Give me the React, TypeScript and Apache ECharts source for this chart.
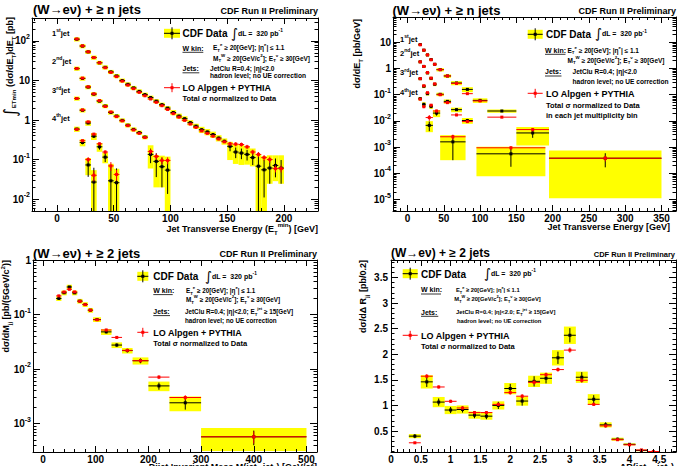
import React, { useEffect, useRef } from "react";
import * as echarts from "echarts";

const FONT = '"Liberation Sans", Arial, Helvetica, sans-serif';
const INT_FONT = '"DejaVu Sans", "Liberation Sans", sans-serif';
const YELLOW = "#ffff00";
const RED = "#ff0000";
const BLACK = "#000000";
const TINY = 1e-30;

/* ================= Panel A : integrated cross section vs E_T^min ================= */
const aHalfBin = 2.5;
const aX1 = [17.5, 22.5, 27.5, 32.5, 37.5, 42.5, 47.5, 52.5, 57.5, 62.5, 67.5, 72.5, 77.5, 82.5, 87.5, 92.5, 97.5, 102.5, 107.5, 112.5, 117.5, 122.5, 127.5, 132.5, 137.5, 142.5, 147.5, 152.5, 157.5, 162.5, 167.5, 172.5, 177.5, 182.5, 187.5, 192.5, 197.5];
const aData1 = [110, 74, 53, 38, 28, 21.5, 16.5, 13, 10, 8.0, 6.5, 5.3, 4.4, 3.7, 3.0, 2.45, 2.0, 1.55, 1.26, 1.08, 0.86, 0.7, 0.57, 0.5, 0.43, 0.35, 0.29, 0.216, 0.155, 0.146, 0.135, 0.112, 0.068, 0.055, 0.061, 0.071, 0.061];
const aTheo1 = [112, 75, 53, 38, 28, 21, 16, 12.5, 9.6, 7.6, 6.2, 5.0, 4.1, 3.4, 2.8, 2.3, 1.85, 1.45, 1.18, 0.98, 0.79, 0.65, 0.53, 0.46, 0.39, 0.33, 0.28, 0.25, 0.246, 0.24, 0.21, 0.155, 0.135, 0.112, 0.1, 0.059, 0.059];
const aStat1 = [0.01, 0.01, 0.01, 0.01, 0.01, 0.015, 0.015, 0.02, 0.02, 0.02, 0.025, 0.025, 0.03, 0.03, 0.035, 0.035, 0.04, 0.045, 0.05, 0.05, 0.055, 0.06, 0.065, 0.07, 0.075, 0.08, 0.09, 0.25, 0.3, 0.3, 0.3, 0.35, 1.2, 0.8, 0.6, 0.5, 0.6];
const aSysUp1 = [0.12, 0.12, 0.12, 0.12, 0.12, 0.12, 0.12, 0.12, 0.12, 0.12, 0.12, 0.12, 0.12, 0.12, 0.12, 0.12, 0.12, 0.15, 0.15, 0.15, 0.15, 0.15, 0.18, 0.18, 0.18, 0.18, 0.18, 0.3, 0.6, 0.6, 0.6, 0.7, 1.0, 1.2, 1.1, 0.8, 1.1];
const aSysDn1 = [0.12, 0.12, 0.12, 0.12, 0.12, 0.12, 0.12, 0.12, 0.12, 0.12, 0.12, 0.12, 0.12, 0.12, 0.12, 0.12, 0.12, 0.15, 0.15, 0.15, 0.15, 0.15, 0.18, 0.18, 0.18, 0.18, 0.18, 0.55, 0.5, 0.5, 0.45, 0.4, 1, 1, 0.6, 0.6, 0.6];
const aTheoErr1 = [0.02, 0.02, 0.02, 0.02, 0.02, 0.02, 0.02, 0.02, 0.02, 0.02, 0.02, 0.02, 0.03, 0.03, 0.03, 0.03, 0.03, 0.04, 0.04, 0.04, 0.04, 0.05, 0.05, 0.05, 0.06, 0.06, 0.06, 0.12, 0.12, 0.12, 0.12, 0.14, 0.15, 0.16, 0.18, 0.2, 0.2];

const aX2 = [17.5, 22.5, 27.5, 32.5, 37.5, 42.5, 47.5, 52.5, 57.5, 62.5, 67.5, 72.5, 77.5, 82.5, 87.5, 92.5, 97.5];
const aData2 = [20, 11.2, 6.8, 4.5, 3.0, 2.26, 1.55, 1.26, 0.98, 0.74, 0.58, 0.48, 0.37, 0.135, 0.09, 0.066, 0.054];
const aTheo2 = [20, 11.5, 6.9, 4.6, 3.1, 2.2, 1.6, 1.22, 0.95, 0.72, 0.56, 0.46, 0.36, 0.16, 0.12, 0.095, 0.095];
const aStat2 = [0.01, 0.015, 0.02, 0.02, 0.025, 0.03, 0.035, 0.04, 0.045, 0.05, 0.06, 0.07, 0.08, 0.4, 0.6, 0.7, 0.75];
const aSysUp2 = [0.12, 0.12, 0.12, 0.12, 0.12, 0.12, 0.12, 0.12, 0.12, 0.12, 0.12, 0.12, 0.12, 0.7, 0.45, 0.9, 1.2];
const aSysDn2 = [0.12, 0.12, 0.12, 0.12, 0.12, 0.12, 0.12, 0.12, 0.12, 0.12, 0.12, 0.12, 0.12, 0.56, 0.78, 0.7, 1];
const aTheoErr2 = [0.02, 0.02, 0.02, 0.03, 0.03, 0.03, 0.04, 0.04, 0.05, 0.05, 0.06, 0.06, 0.07, 0.15, 0.18, 0.2, 0.2];

const aX3 = [17.5, 22.5, 27.5, 32.5, 37.5, 42.5, 47.5, 52.5];
const aData3 = [3.5, 1.76, 0.84, 0.39, 0.21, 0.115, 0.029, 0.026];
const aTheo3 = [3.5, 1.8, 0.9, 0.44, 0.25, 0.155, 0.069, 0.042];
const aStat3 = [0.02, 0.03, 0.05, 0.1, 0.15, 0.25, 1.4, 1.3];
const aSysUp3 = [0.12, 0.12, 0.15, 0.2, 0.25, 0.3, 1.7, 1.25];
const aSysDn3 = [0.12, 0.12, 0.15, 0.2, 0.25, 0.3, 1, 1];
const aTheoErr3 = [0.02, 0.03, 0.04, 0.06, 0.08, 0.1, 0.25, 0.3];

const aX4 = [17.5, 22.5, 27.5, 32.5];
const aData4 = [0.59, 0.27, 0.073, 0.027];
const aTheo4 = [0.58, 0.3, 0.1, 0.04];
const aStat4 = [0.05, 0.1, 0.5, 1.3];
const aSysUp4 = [0.15, 0.2, 0.5, 1.0];
const aSysDn4 = [0.15, 0.2, 0.45, 1];
const aTheoErr4 = [0.04, 0.06, 0.15, 0.3];

/* ================= Panel B : dσ/dE_T per jet ================= */
const bLo1 = [15, 20, 25, 30, 35, 40, 50, 60, 75, 90, 110, 150, 195];
const bHi1 = [20, 25, 30, 35, 40, 50, 60, 75, 90, 110, 150, 195, 350];
const bData1 = [8.2, 5.0, 3.3, 2.2, 1.45, 0.91, 0.52, 0.28, 0.16, 0.061, 0.024, 0.0035, 0.00038];
const bTheo1 = [8.0, 5.0, 3.3, 2.15, 1.45, 0.9, 0.52, 0.27, 0.11, 0.058, 0.014, 0.0047, 0.00038];
const bStat1 = [0.01, 0.01, 0.015, 0.02, 0.02, 0.02, 0.03, 0.04, 0.05, 0.06, 0.08, 0.35, 0.55];
const bSys1 = [0.12, 0.12, 0.12, 0.12, 0.12, 0.15, 0.15, 0.18, 0.22, 0.2, 0.15, 0.67, 0.97];
const bTheoErr1 = [0.02, 0.02, 0.02, 0.02, 0.03, 0.03, 0.03, 0.04, 0.05, 0.06, 0.08, 0.15, 0.25];

const bLo2 = [15, 20, 25, 30, 35, 40, 50, 60, 75, 95];
const bHi2 = [20, 25, 30, 35, 40, 50, 60, 75, 90, 190];
const bData2 = [1.8, 1.2, 0.68, 0.42, 0.25, 0.104, 0.056, 0.027, 0.0104, 0.00056];
const bTheo2 = [1.8, 1.2, 0.7, 0.43, 0.26, 0.1, 0.05, 0.017, 0.0095, 0.00095];
const bStat2 = [0.01, 0.015, 0.02, 0.03, 0.04, 0.05, 0.07, 0.1, 0.15, 0.68];
const bSys2 = [0.12, 0.12, 0.12, 0.15, 0.15, 0.15, 0.18, 0.2, 0.25, 0.86];
const bTheoErr2 = [0.02, 0.03, 0.03, 0.04, 0.05, 0.05, 0.07, 0.1, 0.12, 0.15];

const bLo3 = [15, 20, 25, 30, 35, 45];
const bHi3 = [20, 25, 30, 35, 45, 80];
const bData3 = [0.41, 0.21, 0.11, 0.036, 0.02, 0.0016];
const bTheo3 = [0.41, 0.22, 0.12, 0.04, 0.024, 0.0025];
const bStat3 = [0.03, 0.05, 0.08, 0.15, 0.2, 0.8];
const bSys3 = [0.12, 0.15, 0.15, 0.2, 0.3, 0.8];
const bTheoErr3 = [0.04, 0.05, 0.07, 0.1, 0.12, 0.2];

const bLo4 = [15, 20, 25];
const bHi4 = [20, 25, 35];
const bData4 = [0.071, 0.043, 0.0068];
const bTheo4 = [0.068, 0.035, 0.0135];
const bStat4 = [0.1, 0.15, 0.4];
const bSys4 = [0.15, 0.2, 0.45];
const bTheoErr4 = [0.08, 0.12, 0.25];

/* ================= Panel C : dijet invariant mass ================= */
const cLo = [25, 35, 45, 55, 65, 75, 85, 95, 110, 130, 150, 170, 200, 240, 300];
const cHi = [35, 45, 55, 65, 75, 85, 95, 110, 130, 150, 170, 200, 240, 300, 500];
const cData = [0.197, 0.25, 0.32, 0.25, 0.176, 0.153, 0.12, 0.081, 0.048, 0.0275, 0.0218, 0.0142, 0.0049, 0.0024, 0.00057];
const cTheo = [0.22, 0.26, 0.29, 0.26, 0.175, 0.152, 0.12, 0.08, 0.052, 0.038, 0.022, 0.0142, 0.0071, 0.003, 0.00057];
const cStat = [0.04, 0.035, 0.03, 0.03, 0.03, 0.035, 0.04, 0.045, 0.06, 0.07, 0.08, 0.1, 0.15, 0.25, 0.3];
const cSys = [0.1, 0.1, 0.1, 0.1, 0.1, 0.1, 0.1, 0.1, 0.12, 0.12, 0.12, 0.15, 0.2, 0.3, 0.45];
const cTheoErr = [0.03, 0.03, 0.03, 0.03, 0.03, 0.03, 0.03, 0.04, 0.05, 0.06, 0.06, 0.07, 0.08, 0.1, 0.25];

/* ================= Panel D : dijet ΔR ================= */
const dLo = [0.3, 0.5, 0.7, 0.9, 1.1, 1.3, 1.5, 1.7, 1.9, 2.1, 2.3, 2.5, 2.7, 2.9, 3.1, 3.3, 3.5, 3.7, 3.9, 4.1, 4.3];
const dHi = [0.5, 0.7, 0.9, 1.1, 1.3, 1.5, 1.7, 1.9, 2.1, 2.3, 2.5, 2.7, 2.9, 3.1, 3.3, 3.5, 3.7, 3.9, 4.1, 4.3, 4.5];
const dData = [0.4, 1.46, 1.065, 0.91, 0.92, 0.81, 0.79, 1.0, 1.33, 1.085, 1.47, 1.53, 1.93, 2.37, 1.55, 1.12, 0.62, 0.34, 0.24, 0.12, 0.08];
const dTheo = [0.27, 1.57, 1.36, 1.08, 0.95, 0.86, 0.86, 1.02, 1.25, 1.18, 1.45, 1.6, 1.7, 2.08, 1.49, 1.02, 0.6, 0.33, 0.23, 0.13, 0.1];
const dStat = [0.04, 0.1, 0.07, 0.06, 0.06, 0.06, 0.06, 0.07, 0.09, 0.09, 0.1, 0.1, 0.12, 0.14, 0.1, 0.08, 0.05, 0.03, 0.02, 0.015, 0.01];
const dSys = [0.04, 0.13, 0.1, 0.08, 0.08, 0.07, 0.07, 0.08, 0.11, 0.09, 0.11, 0.11, 0.15, 0.17, 0.11, 0.1, 0.05, 0.03, 0.02, 0.015, 0.01];
const dTheoErr = [0.01, 0.04, 0.03, 0.03, 0.03, 0.03, 0.03, 0.03, 0.04, 0.04, 0.04, 0.04, 0.04, 0.05, 0.04, 0.03, 0.02, 0.02, 0.01, 0.01, 0.01];

/* ================= Axis ticks ================= */
const aXTicks = [0, 50, 100, 150, 200];
const aYTicks = [0.01, 0.1, 1, 10, 100];
const bXTicks = [0, 50, 100, 150, 200, 250, 300, 350];
const bYTicks = [1e-5, 1e-4, 1e-3, 0.01, 0.1, 1, 10];
const cXTicks = [0, 100, 200, 300, 400, 500];
const cYTicks = [0.001, 0.01, 0.1, 1];
const dXTicks = [0, 0.5, 1, 1.5, 2, 2.5, 3, 3.5, 4, 4.5];
const dYTicks = [0.5, 1, 1.5, 2, 2.5, 3, 3.5];

/* ================= helpers ================= */
function linMinor(min: number, max: number, step: number, majorStep: number) {
  const out: number[] = [];
  const k0 = Math.ceil(min / step - 1e-9);
  const k1 = Math.floor(max / step + 1e-9);
  for (let k = k0; k <= k1; k++) {
    const v = Math.round(k * step * 1e6) / 1e6;
    const r = v / majorStep;
    if (Math.abs(r - Math.round(r)) > 1e-6) out.push(v);
  }
  return out;
}
function logMinor(min: number, max: number) {
  const out: number[] = [];
  for (let e = Math.floor(Math.log10(min)); e <= Math.ceil(Math.log10(max)); e++) {
    for (let m = 2; m <= 9; m++) {
      const v = m * Math.pow(10, e);
      if (v >= min && v <= max) out.push(v);
    }
  }
  return out;
}
const logFmt = (v: number) => {
  const e = Math.round(Math.log10(v));
  if (e === 0) return "1";
  if (e === 1) return "10";
  return "10{sup|" + e + "}";
};

function axisGroup(dim: "x" | "y", grid: number, s: any) {
  const pos = dim === "x" ? ["bottom", "top"] : ["left", "right"];
  const base: any = {
    type: s.type, gridIndex: grid, min: s.min, max: s.max,
    splitLine: { show: false }, splitArea: { show: false }, silent: true, z: 10,
    axisPointer: { show: false },
  };
  const line = { show: true, onZero: false, lineStyle: { color: BLACK, width: 1 } };
  const noLine = { show: false, onZero: false };
  const tick = (vals: number[], len: number) => ({
    show: true, inside: true, length: len, customValues: vals,
    lineStyle: { color: BLACK, width: 1 },
  });
  const label: any = {
    show: true, customValues: s.major, color: BLACK, fontSize: s.fontSize,
    fontWeight: "bold", fontFamily: FONT, margin: s.margin,
  };
  if (s.fmt) {
    label.formatter = s.fmt;
    label.lineHeight = 16;
    label.rich = {
      sup: { color: BLACK, fontSize: 7, fontWeight: "bold", fontFamily: FONT, verticalAlign: "top", lineHeight: 7 },
    };
  }
  return [
    { ...base, position: pos[0], axisLine: line, axisTick: tick(s.major, s.majorLen), axisLabel: label },
    { ...base, position: pos[0], axisLine: noLine, axisTick: tick(s.minor, s.minorLen), axisLabel: { show: false } },
    { ...base, position: pos[1], axisLine: line, axisTick: tick(s.major, s.majorLen), axisLabel: { show: false } },
    { ...base, position: pos[1], axisLine: noLine, axisTick: tick(s.minor, s.minorLen), axisLabel: { show: false } },
  ];
}

function crossRel(lo: number[], hi: number[], y: number[], eu: number[], ed: number[]) {
  return y.map((v, i) => [(lo[i] + hi[i]) / 2, lo[i], hi[i], v, v * (1 - ed[i]), v * (1 + eu[i])]);
}
function boxRel(lo: number[], hi: number[], y: number[], up: number[], dn: number[]) {
  return y.map((v, i) => [lo[i], hi[i], v * (1 - dn[i]), v * (1 + up[i])]);
}
function crossAbs(lo: number[], hi: number[], y: number[], e: number[]) {
  return y.map((v, i) => [(lo[i] + hi[i]) / 2, lo[i], hi[i], v, v - e[i], v + e[i]]);
}
function boxAbs(lo: number[], hi: number[], y: number[], e: number[]) {
  return y.map((v, i) => [lo[i], hi[i], v - e[i], v + e[i]]);
}
const loOf = (xs: number[], h: number) => xs.map((x) => x - h);
const hiOf = (xs: number[], h: number) => xs.map((x) => x + h);

function renderBox(params: any, api: any) {
  const cs = params.coordSys;
  const X = (v: number) => Math.min(Math.max(v, cs.x), cs.x + cs.width);
  const Y = (v: number) => Math.min(Math.max(v, cs.y), cs.y + cs.height);
  const p1 = api.coord([api.value(0), Math.max(api.value(3), TINY)]);
  const p2 = api.coord([api.value(1), Math.max(api.value(2), TINY)]);
  const x0 = X(Math.min(p1[0], p2[0]));
  const x1 = X(Math.max(p1[0], p2[0]));
  const y0 = Y(Math.min(p1[1], p2[1]));
  const y1 = Y(Math.max(p1[1], p2[1]));
  if (x1 - x0 <= 0 || y1 - y0 <= 0) return null;
  return { type: "rect", shape: { x: x0, y: y0, width: x1 - x0, height: y1 - y0 }, style: { fill: YELLOW }, silent: true };
}

function makeCross(color: string, size: number) {
  return (params: any, api: any) => {
    const cs = params.coordSys;
    const X = (v: number) => Math.min(Math.max(v, cs.x), cs.x + cs.width);
    const Y = (v: number) => Math.min(Math.max(v, cs.y), cs.y + cs.height);
    const xc = api.value(0), lo = api.value(1), hi = api.value(2), y = api.value(3);
    const el = api.value(4), eh = api.value(5);
    const c = api.coord([xc, y]);
    if (c[1] > cs.y + cs.height + 0.5 || c[1] < cs.y - 0.5) return null;
    const l = api.coord([lo, y]);
    const h = api.coord([hi, y]);
    const a = api.coord([xc, Math.max(el, TINY)]);
    const b = api.coord([xc, Math.max(eh, TINY)]);
    const ls = { stroke: color, lineWidth: 1 };
    return {
      type: "group",
      children: [
        { type: "line", shape: { x1: X(l[0]), y1: c[1], x2: X(h[0]), y2: c[1] }, style: ls },
        { type: "line", shape: { x1: c[0], y1: Y(a[1]), x2: c[0], y2: Y(b[1]) }, style: ls },
        { type: "rect", shape: { x: c[0] - size / 2, y: c[1] - size / 2, width: size, height: size }, style: { fill: color } },
      ],
    };
  };
}

function panelSeries(xi: number, yi: number, boxes: any[], data: any[], theory: any[]) {
  const common = { type: "custom", xAxisIndex: xi, yAxisIndex: yi, silent: true, animation: false };
  return [
    { ...common, data: boxes, renderItem: renderBox, encode: { x: [0, 1], y: [3] }, z: 2 },
    { ...common, data, renderItem: makeCross(BLACK, 3), encode: { x: [0], y: [3] }, z: 3 },
    { ...common, data: theory, renderItem: makeCross(RED, 3), encode: { x: [0], y: [3] }, z: 4 },
  ];
}

function richStyles(size: number) {
  const s = Math.round(size * 0.68 * 10) / 10;
  const base = { fontWeight: "bold", fontFamily: FONT, fill: BLACK };
  return {
    sup: { ...base, fontSize: s, verticalAlign: "top", lineHeight: s },
    sub: { ...base, fontSize: s, verticalAlign: "bottom", lineHeight: s * 1.7 },
    lo: { ...base, fontSize: s, verticalAlign: "bottom", lineHeight: s },
    int: { fontFamily: INT_FONT, fontWeight: "normal", fill: BLACK, fontSize: size * 1.9, lineHeight: size * 1.5 },
  };
}
function T(x: number, y: number, text: string, size: number, align = "left", rotation = 0) {
  return {
    type: "text", x, y, rotation, silent: true, z: 100,
    style: {
      text, fontSize: size, fontWeight: "bold", fontFamily: FONT, fill: BLACK,
      align, textAlign: align, verticalAlign: "middle", textVerticalAlign: "middle",
      lineHeight: size * 1.5, rich: richStyles(size),
    },
  };
}
function UL(x0: number, x1: number, y: number) {
  return { type: "line", silent: true, z: 100, shape: { x1: x0, y1: y, x2: x1, y2: y }, style: { stroke: BLACK, lineWidth: 0.8 } };
}
function dataIcon(x0: number, x1: number, yc: number) {
  const xm = (x0 + x1) / 2;
  return [
    { type: "rect", silent: true, z: 100, shape: { x: x0, y: yc - 4.5, width: x1 - x0, height: 9 }, style: { fill: YELLOW } },
    { type: "line", silent: true, z: 101, shape: { x1: x0, y1: yc, x2: x1, y2: yc }, style: { stroke: BLACK, lineWidth: 1 } },
    { type: "line", silent: true, z: 101, shape: { x1: xm, y1: yc - 6, x2: xm, y2: yc + 6 }, style: { stroke: BLACK, lineWidth: 1 } },
    { type: "rect", silent: true, z: 102, shape: { x: xm - 1.5, y: yc - 1.5, width: 3, height: 3 }, style: { fill: BLACK } },
  ];
}
function theoIcon(x0: number, x1: number, yc: number) {
  const xm = (x0 + x1) / 2;
  return [
    { type: "line", silent: true, z: 101, shape: { x1: x0, y1: yc, x2: x1, y2: yc }, style: { stroke: RED, lineWidth: 1 } },
    { type: "line", silent: true, z: 101, shape: { x1: xm, y1: yc - 4.5, x2: xm, y2: yc + 4.5 }, style: { stroke: RED, lineWidth: 1 } },
    { type: "rect", silent: true, z: 102, shape: { x: xm - 1.5, y: yc - 1.5, width: 3, height: 3 }, style: { fill: RED } },
  ];
}

const EKIN = "E{sub|T}{sup|e} ≥ 20[GeV]; |η{sup|e}| ≤ 1.1";
const MKIN = "M{sub|T}{sup|W} ≥ 20[GeV/c{sup|2}]; E{sub|T}{sup|ν} ≥ 30[GeV]";
const LUMI = "{int|∫}dL =  320 pb{sup|-1}";

function buildGraphic() {
  const g: any[] = [];
  // ---- Panel A
  g.push(T(33, 9.5, "(W→eν) + ≥ n jets", 13));
  g.push(T(318, 10.5, "CDF Run II Preliminary", 9, "right"));
  g.push(T(52, 33, "1{sup|st}jet", 7.5));
  g.push(T(52, 61, "2{sup|nd}jet", 7.5));
  g.push(T(52, 90.7, "3{sup|rd}jet", 7.5));
  g.push(T(52, 118.3, "4{sup|th}jet", 7.5));
  g.push(...dataIcon(164, 180, 33.3));
  g.push(T(182.5, 33.5, "CDF Data", 10));
  g.push(T(231, 33.5, LUMI, 7));
  g.push(T(182.5, 48, "W kin:", 7), UL(182.5, 203.3, 52.3));
  g.push(T(213, 47.5, EKIN, 6.5));
  g.push(T(213, 58, MKIN, 6.5));
  g.push(T(182.5, 68.5, "Jets:", 7), UL(182.5, 199.3, 72.8));
  g.push(T(210, 68.5, "JetClu R=0.4; |η|<2.0", 6.6));
  g.push(T(210, 75.8, "hadron level; no UE correction", 6.6));
  g.push(...theoIcon(164, 180, 87.7));
  g.push(T(182.5, 88, "LO Alpgen + PYTHIA", 9));
  g.push(T(182.5, 98, "Total σ normalized to Data", 7.5));
  g.push(T(10, 17, "{int|∫}{lo|E}{lo|T}{lo|min} (dσ/dE{sub|T})dE{sub|T} [pb]", 9, "right", Math.PI / 2));
  g.push(T(318, 228.5, "Jet Transverse Energy (E{sub|T}{sup|min}) [GeV]", 9, "right"));

  // ---- Panel B
  g.push(T(392.5, 10, "(W→eν) + ≥ n jets", 13));
  g.push(T(676, 11, "CDF Run II Preliminary", 9, "right"));
  g.push(T(400, 39.3, "1{sup|st}jet", 7.5));
  g.push(T(400, 53.3, "2{sup|nd}jet", 7.5));
  g.push(T(400, 72.7, "3{sup|rd}jet", 7.5));
  g.push(T(400, 92.7, "4{sup|th}jet", 7.5));
  g.push(...dataIcon(527.7, 542.7, 34.3));
  g.push(T(546, 34.5, "CDF Data", 10));
  g.push(T(595, 33.8, LUMI, 7));
  g.push(T(545, 50, "W kin:", 7), UL(545, 565.5, 54.3));
  g.push(T(567.5, 50, EKIN, 6.5));
  g.push(T(567.5, 60, MKIN, 6.5));
  g.push(T(545, 71.7, "Jets:", 7), UL(545, 561.5, 76));
  g.push(T(572.5, 71.7, "JetClu R=0.4; |η|<2.0", 6.6));
  g.push(T(572.5, 81, "hadron level; no UE correction", 6.6));
  g.push(...theoIcon(527.7, 542.7, 93.3));
  g.push(T(546, 93.5, "LO Alpgen + PYTHIA", 9));
  g.push(T(546, 105, "Total σ normalized to Data", 7.5));
  g.push(T(546, 115, "in each jet multiplicity bin", 7.5));
  g.push(T(357, 19, "dσ/dE{sub|T} [pb/GeV]", 9, "right", Math.PI / 2));
  g.push(T(670, 226.7, "Jet Transverse Energy [GeV]", 9, "right"));

  // ---- Panel C
  g.push(T(33, 253, "(W→eν) + ≥ 2 jets", 13));
  g.push(T(317, 254, "CDF Run II Preliminary", 9, "right"));
  g.push(...dataIcon(137.3, 148.3, 276.3));
  g.push(T(153.3, 276.5, "CDF Data", 10));
  g.push(T(205, 276, LUMI, 7));
  g.push(T(153.3, 290.3, "W kin:", 7), UL(153.3, 172.7, 294.6));
  g.push(T(186, 290.3, EKIN, 6.3));
  g.push(T(186, 299.7, MKIN, 6.3));
  g.push(T(153.3, 311.3, "Jets:", 7), UL(153.3, 170, 315.6));
  g.push(T(185, 311.3, "JetClu R=0.4; |η|<2.0; E{sub|T}{sup|jet} ≥ 15[GeV]", 6.3));
  g.push(T(185, 320.3, "hadron level; no UE correction", 6.3));
  g.push(...theoIcon(137.3, 148.3, 332.3));
  g.push(T(153.3, 332.5, "LO Alpgen + PYTHIA", 9));
  g.push(T(153.3, 343, "Total σ normalized to Data", 7.5));
  g.push(T(6, 260, "dσ/dM{sub|jj} [pb/(5GeV/c{sup|2})]", 9, "right", Math.PI / 2));
  g.push(T(317, 467, "Dijet Invariant Mass M(jet{sub|1},jet{sub|2}) [GeV/c{sup|2}]", 9, "right"));

  // ---- Panel D
  g.push(T(391, 252.5, "(W→eν) + ≥ 2 jets", 12));
  g.push(T(675, 254, "CDF Run II Preliminary", 7.5, "right"));
  g.push(...dataIcon(402.7, 417.7, 273.7));
  g.push(T(421, 274, "CDF Data", 10));
  g.push(T(484, 273.5, LUMI, 7));
  g.push(T(421, 289.7, "W kin:", 7), UL(421, 441, 294));
  g.push(T(456, 289.7, EKIN, 5.8));
  g.push(T(454.3, 299, MKIN, 5.8));
  g.push(T(421, 312, "Jets:", 7), UL(421, 438.3, 316.3));
  g.push(T(456, 312, "JetClu R=0.4; |η|<2.0; E{sub|T}{sup|jet} ≥ 15[GeV]", 5.8));
  g.push(T(457, 321.3, "hadron level; no UE correction", 5.8));
  g.push(...theoIcon(402.7, 417.7, 335.3));
  g.push(T(421, 335.5, "LO Alpgen + PYTHIA", 9));
  g.push(T(421, 346.3, "Total σ normalized to Data", 7.5));
  g.push(T(363, 260, "dσ/dΔ R{sub|jj} [pb/0.2]", 9, "right", Math.PI / 2));
  g.push(T(674, 467, "ΔR(jet{sub|1} , jet{sub|2})", 9, "right"));
  return g;
}

function buildOption() {
  const grids = [
    { left: 32, top: 18, width: 286, height: 193 },
    { left: 393, top: 17, width: 283, height: 194 },
    { left: 33, top: 260, width: 284, height: 192 },
    { left: 391, top: 260, width: 285, height: 192 },
  ];
  const xAxis: any[] = [];
  const yAxis: any[] = [];
  const addX = (g: number, s: any) => { const i = xAxis.length; xAxis.push(...axisGroup("x", g, s)); return i; };
  const addY = (g: number, s: any) => { const i = yAxis.length; yAxis.push(...axisGroup("y", g, s)); return i; };

  const xa = addX(0, { type: "value", min: -22, max: 230, major: aXTicks, minor: linMinor(-22, 230, 10, 50), fontSize: 10, margin: 2, majorLen: 6, minorLen: 3 });
  const ya = addY(0, { type: "log", min: 0.005, max: 380, major: aYTicks, minor: logMinor(0.005, 380), fmt: logFmt, fontSize: 10, margin: 2, majorLen: 7, minorLen: 3.5 });
  const xb = addX(1, { type: "value", min: -20, max: 370, major: bXTicks, minor: linMinor(-20, 370, 10, 50), fontSize: 10, margin: 2, majorLen: 6, minorLen: 3 });
  const yb = addY(1, { type: "log", min: 3.7e-6, max: 92, major: bYTicks, minor: logMinor(3.7e-6, 92), fmt: logFmt, fontSize: 10, margin: 2, majorLen: 7, minorLen: 3.5 });
  const xc = addX(2, { type: "value", min: -19, max: 520, major: cXTicks, minor: linMinor(-19, 520, 20, 100), fontSize: 10, margin: 2, majorLen: 6, minorLen: 3 });
  const yc = addY(2, { type: "log", min: 3e-4, max: 1.001, major: cYTicks, minor: logMinor(3e-4, 1.001), fmt: logFmt, fontSize: 10, margin: 2, majorLen: 7, minorLen: 3.5 });
  const xd = addX(3, { type: "value", min: 0, max: 4.78, major: dXTicks, minor: linMinor(0, 4.78, 0.1, 0.5), fontSize: 10, margin: 2, majorLen: 6, minorLen: 3 });
  const yd = addY(3, { type: "value", min: 0.09, max: 3.84, major: dYTicks, minor: linMinor(0.09, 3.84, 0.1, 0.5), fontSize: 10, margin: 3, majorLen: 7, minorLen: 3.5 });

  // Panel A
  const aL1 = loOf(aX1, aHalfBin), aH1 = hiOf(aX1, aHalfBin);
  const aL2 = loOf(aX2, aHalfBin), aH2 = hiOf(aX2, aHalfBin);
  const aL3 = loOf(aX3, aHalfBin), aH3 = hiOf(aX3, aHalfBin);
  const aL4 = loOf(aX4, aHalfBin), aH4 = hiOf(aX4, aHalfBin);
  const aBoxes = [
    ...boxRel(aL1, aH1, aData1, aSysUp1, aSysDn1), ...boxRel(aL2, aH2, aData2, aSysUp2, aSysDn2),
    ...boxRel(aL3, aH3, aData3, aSysUp3, aSysDn3), ...boxRel(aL4, aH4, aData4, aSysUp4, aSysDn4),
  ];
  const aPts = [
    ...crossRel(aL1, aH1, aData1, aStat1, aStat1), ...crossRel(aL2, aH2, aData2, aStat2, aStat2),
    ...crossRel(aL3, aH3, aData3, aStat3, aStat3), ...crossRel(aL4, aH4, aData4, aStat4, aStat4),
  ];
  const aTh = [
    ...crossRel(aL1, aH1, aTheo1, aTheoErr1, aTheoErr1), ...crossRel(aL2, aH2, aTheo2, aTheoErr2, aTheoErr2),
    ...crossRel(aL3, aH3, aTheo3, aTheoErr3, aTheoErr3), ...crossRel(aL4, aH4, aTheo4, aTheoErr4, aTheoErr4),
  ];
  // Panel B
  const bBoxes = [
    ...boxRel(bLo1, bHi1, bData1, bSys1, bSys1), ...boxRel(bLo2, bHi2, bData2, bSys2, bSys2),
    ...boxRel(bLo3, bHi3, bData3, bSys3, bSys3), ...boxRel(bLo4, bHi4, bData4, bSys4, bSys4),
  ];
  const bPts = [
    ...crossRel(bLo1, bHi1, bData1, bStat1, bStat1), ...crossRel(bLo2, bHi2, bData2, bStat2, bStat2),
    ...crossRel(bLo3, bHi3, bData3, bStat3, bStat3), ...crossRel(bLo4, bHi4, bData4, bStat4, bStat4),
  ];
  const bTh = [
    ...crossRel(bLo1, bHi1, bTheo1, bTheoErr1, bTheoErr1), ...crossRel(bLo2, bHi2, bTheo2, bTheoErr2, bTheoErr2),
    ...crossRel(bLo3, bHi3, bTheo3, bTheoErr3, bTheoErr3), ...crossRel(bLo4, bHi4, bTheo4, bTheoErr4, bTheoErr4),
  ];

  const series = [
    ...panelSeries(xa, ya, aBoxes, aPts, aTh),
    ...panelSeries(xb, yb, bBoxes, bPts, bTh),
    ...panelSeries(xc, yc, boxRel(cLo, cHi, cData, cSys, cSys), crossRel(cLo, cHi, cData, cStat, cStat), crossRel(cLo, cHi, cTheo, cTheoErr, cTheoErr)),
    ...panelSeries(xd, yd, boxAbs(dLo, dHi, dData, dSys), crossAbs(dLo, dHi, dData, dStat), crossAbs(dLo, dHi, dTheo, dTheoErr)),
  ];

  return {
    animation: false,
    backgroundColor: "#ffffff",
    grid: grids.map((g) => ({ ...g, containLabel: false, outerBoundsMode: "none", show: false })),
    xAxis,
    yAxis,
    series,
    graphic: buildGraphic(),
  };
}

export default function App() {
  const ref = useRef<HTMLDivElement>(null);
  useEffect(() => {
    if (!ref.current) return;
    const chart = echarts.init(ref.current, undefined, { renderer: "svg", width: 683, height: 466 });
    chart.setOption(buildOption() as any);
    return () => chart.dispose();
  }, []);
  return (
    <div
      ref={ref}
      style={{ position: "fixed", left: 0, top: 0, width: 683, height: 466, background: "#ffffff" }}
    />
  );
}
